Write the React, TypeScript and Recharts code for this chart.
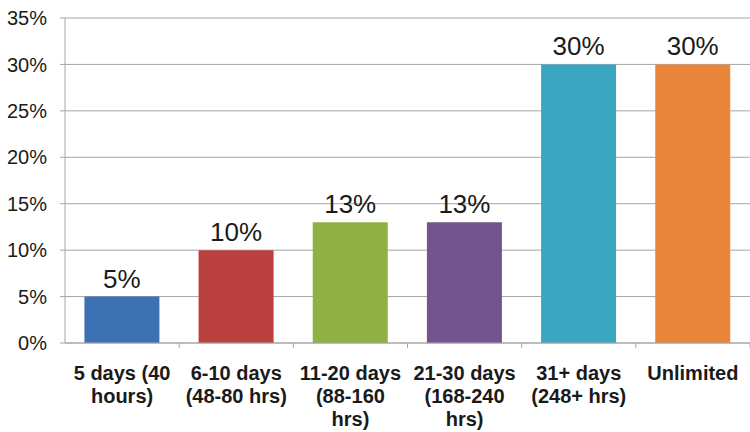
import { BarChart, Bar, XAxis, YAxis, CartesianGrid, Cell, LabelList } from 'recharts';

// ── Data ────────────────────────────────────────────────────────────────────
const CATEGORIES = ['5 days (40 hours)', '6-10 days (48-80 hrs)', '11-20 days (88-160 hrs)', '21-30 days (168-240 hrs)', '31+ days (248+ hrs)', 'Unlimited'];
const CATEGORY_LINES = [
    ['5 days (40', 'hours)'],
    ['6-10 days', '(48-80 hrs)'],
    ['11-20 days', '(88-160', 'hrs)'],
    ['21-30 days', '(168-240', 'hrs)'],
    ['31+ days', '(248+ hrs)'],
    ['Unlimited'],
];
const SHARES = [5, 10, 13, 13, 30, 30];
const Y_TICKS = [0, 5, 10, 15, 20, 25, 30, 35];
const COLORS = ['#3d71b3', '#b9403e', '#8fb043', '#73548f', '#3aa6c0', '#e9863a'];

const DATA = CATEGORIES.map((name, i) => ({ name, lines: CATEGORY_LINES[i], value: SHARES[i] }));

const FONT = 'Arial, "Liberation Sans", sans-serif';
const PLOT_W = 750 - 65;
const BAND = PLOT_W / CATEGORIES.length;

// multi-line bold category label + boundary tick mark
const CategoryTick = ({ x, y, payload, index }: any) => {
    const lines = CATEGORY_LINES[index] ?? [payload.value];
    return (
        <g>
            <line x1={x + BAND / 2} y1={y - 8} x2={x + BAND / 2} y2={y - 3} stroke="#a6a6a6" />
            <text x={x} y={y} textAnchor="middle" fontFamily={FONT} fontWeight="bold" fontSize={20} fill="#1a1a1a">
                {lines.map((l: string, k: number) => (
                    <tspan key={k} x={x} dy={k === 0 ? 29 : 23}>{l}</tspan>
                ))}
            </text>
        </g>
    );
};

export default function App() {
    return (
        <div style={{ position: 'absolute', left: 0, top: 0, width: 750, height: 432, background: '#fff' }}>
            <BarChart
                width={750}
                height={432}
                data={DATA}
                margin={{ top: 18, right: 0, left: 0, bottom: 0 }}
                barCategoryGap="17%"
            >
                <CartesianGrid vertical={false} stroke="#a6a6a6" />
                <XAxis
                    dataKey="name"
                    height={89}
                    interval={0}
                    tickLine={false}
                    axisLine={{ stroke: '#a6a6a6' }}
                    tick={<CategoryTick />}
                />
                <YAxis
                    width={65}
                    domain={[0, 35]}
                    ticks={Y_TICKS}
                    interval={0}
                    tickFormatter={(v) => `${v}%`}
                    tickSize={5}
                    tickMargin={13}
                    tickLine={{ stroke: '#a6a6a6' }}
                    axisLine={{ stroke: '#a6a6a6' }}
                    tick={{ fontSize: 20, fill: '#1a1a1a', fontFamily: FONT }}
                />
                <Bar dataKey="value" isAnimationActive={false}>
                    {DATA.map((d, i) => (
                        <Cell key={d.name} fill={COLORS[i]} />
                    ))}
                    <LabelList
                        dataKey="value"
                        position="top"
                        offset={9}
                        formatter={(v: any) => `${v}%`}
                        style={{ fontSize: 26, fill: '#1a1a1a', fontFamily: FONT }}
                    />
                </Bar>
            </BarChart>
        </div>
    );
}
